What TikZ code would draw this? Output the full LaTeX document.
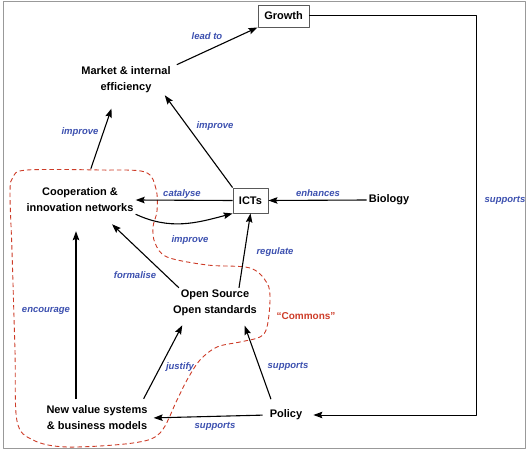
\documentclass[tikz,border=0pt]{standalone}
\usepackage{fontspec}
\setmainfont{Liberation Sans}
\usetikzlibrary{arrows.meta}
\definecolor{lblblue}{RGB}{60,80,175}
\definecolor{commred}{RGB}{205,60,40}
\begin{document}
\begin{tikzpicture}[x=1pt, y=1pt, line join=round, >={Stealth[length=9pt, width=6.5pt, inset=1.5pt]},
  concept/.style={font=\fontsize{11}{16}\selectfont\bfseries, align=center, inner sep=2pt},
  boxed/.style={concept, draw=black!65, line width=0.9pt},
  verb/.style={font=\fontsize{9.5}{11}\selectfont\bfseries\itshape, text=lblblue},
  arr/.style={->, line width=1.1pt}]
\useasboundingbox (0,0) rectangle (528,451);
\draw[black!40, line width=1pt] (3,3) rectangle (525,449);
% concepts
\node[boxed, minimum width=51pt, minimum height=22pt] (growth) at (283.5,435) {Growth};
\node[concept] (market) at (126,371) {Market \& internal\\efficiency};
\node[concept] (coop) at (80,251) {Cooperation \&\\innovation networks};
\node[boxed, minimum width=35pt, minimum height=25pt] (icts) at (250.5,250.5) {ICTs};
\node[concept] (bio) at (389,251) {Biology};
\node[concept] (opensrc) at (215,148) {Open Source\\Open standards};
\node[concept] (newval) at (97,33) {New value systems\\\& business models};
\node[concept] (policy) at (286,36) {Policy};
\node[font=\fontsize{10}{12}\selectfont\bfseries, text=commred] (commons) at (306,135) {“Commons”};
% commons boundary
\draw[commred, dash pattern=on 4.5pt off 3pt, line width=0.9pt] plot[smooth cycle, tension=0.55] coordinates {
  (157,240) (156,262) (145,279) (100,281) (27,281) (13,274) (10,258) (12,200)
  (15,100) (17,30) (33,11) (67,4) (133,8) (160,18) (177,51) (187,71) (200,91)
  (217,104) (240,109) (260,114) (267,124) (270,151) (267,168) (250,183)
  (207,186) (167,194) (155,208) (153,224)};
% links
\draw[arr] ([xshift=4pt]market.north east) -- (growth.south west);
\node[verb] (l1) at (207,415) {lead to};
\draw[arr, shorten <=18pt, shorten >=14pt] ([xshift=5pt]coop.north) -- ([xshift=-10pt]market.south);
\node[verb] (l2) at (80,319) {improve};
\draw[arr] (icts.north west) -- ([xshift=-8pt]market.south east);
\node[verb] (l3) at (215,325) {improve};
\draw[arr] (icts.west) -- (coop.east);
\node[verb] (l4) at (182,257) {catalyse};
\draw[arr] (bio.west) -- (icts.east);
\node[verb] (l5) at (318,258) {enhances};
\draw[arr] (coop.south east) to[out=-25, in=195] (icts.south west);
\node[verb] (l6) at (190,211) {improve};
\draw[arr] ([xshift=8pt]opensrc.north west) -- ([xshift=32pt, yshift=-10pt]coop.south);
\node[verb] (l7) at (135,176) {formalise};
\draw[arr] ([xshift=24pt]opensrc.north) -- (icts.south);
\node[verb] (l8) at (275,199) {regulate};
\draw[arr, shorten >=17pt] ([xshift=-21pt, yshift=5pt]newval.north) -- ([xshift=-21pt]newval.north |- coop.south);
\node[verb] (l9) at (46,140) {encourage};
\draw[arr, shorten >=8pt] ([xshift=-6pt, yshift=5pt]newval.north east) -- ([xshift=-29pt]opensrc.south);
\node[verb] (l10) at (180,84) {justify};
\draw[arr, shorten <=9pt, shorten >=8pt] ([xshift=-12pt]policy.north) -- ([xshift=27pt]opensrc.south);
\node[verb] (l11) at (288,85) {supports};
\draw[arr, shorten <=5pt, shorten >=4pt] (policy.west) -- (newval.east);
\node[verb] (l12) at (215,25) {supports};
\draw[arr, line width=1pt] (growth.east) -- ++(167,0) |- ([xshift=9pt]policy.east);
\node[verb] (l13) at (505,251) {supports};
\end{tikzpicture}
\end{document}
